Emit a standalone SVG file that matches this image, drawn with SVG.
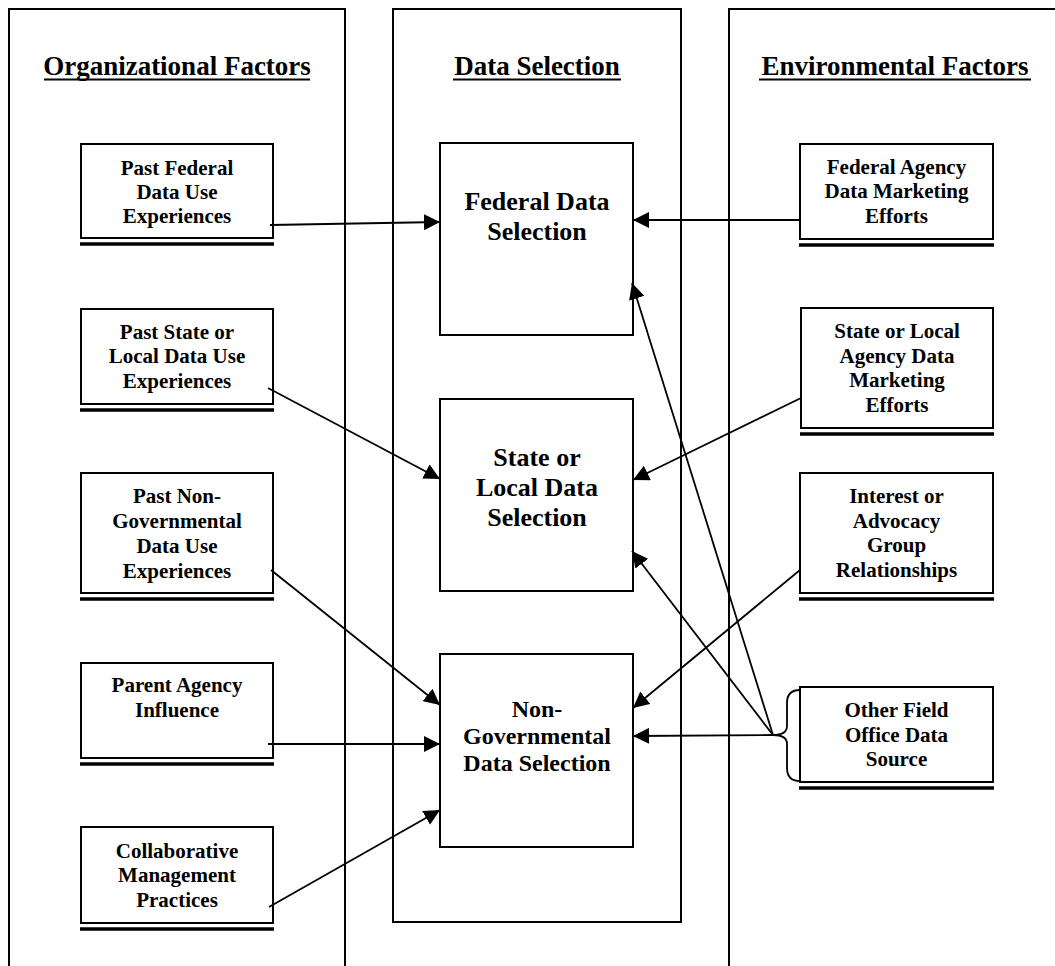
<svg xmlns="http://www.w3.org/2000/svg" width="1055" height="966" viewBox="0 0 1055 966">
  <style>
    text { font-family: "Liberation Serif", "Times New Roman", serif; font-weight: bold; fill: #000; text-anchor: middle; }
    .hdr { font-size: 27px; }
    .sm { font-size: 21px; }
    .lg { font-size: 26px; }
    .md { font-size: 24px; }
    .col { fill: none; stroke: #000; stroke-width: 2; }
    .box { fill: #fff; stroke: #000; stroke-width: 2; }
    .bar { stroke: #000; stroke-width: 3.5; }
    .ul { stroke: #000; stroke-width: 2; }
    .conn { fill: none; stroke: #000; stroke-width: 1.8; }
  </style>
  <defs>
    <marker id="ah" viewBox="0 0 16 16" refX="16" refY="8" markerWidth="16" markerHeight="16" orient="auto" markerUnits="userSpaceOnUse">
      <path d="M0,0 L16,8 L0,16 z" fill="#000"/>
    </marker>
  </defs>
  <rect width="1055" height="966" fill="#fff"/>

  <!-- column frames -->
  <g id="columns">
    <path class="col" d="M9,970 L9,9 L345,9 L345,970"/>
    <rect class="col" x="393" y="9" width="288" height="913"/>
    <path class="col" d="M729,970 L729,9 L1060,9"/>
  </g>

  <!-- column headings -->
  <g id="headings">
    <text class="hdr" x="177" y="75">Organizational Factors</text>
    <line class="ul" x1="44" y1="79.5" x2="310" y2="79.5"/>
    <text class="hdr" x="537" y="75">Data Selection</text>
    <line class="ul" x1="453" y1="79.5" x2="621" y2="79.5"/>
    <text class="hdr" x="895" y="75">Environmental Factors</text>
    <line class="ul" x1="759" y1="79.5" x2="1031" y2="79.5"/>
  </g>

  <!-- organizational factors -->
  <g id="past-federal">
    <rect class="box" x="81" y="144" width="192" height="94"/>
    <line class="bar" x1="80" y1="244" x2="274" y2="244"/>
    <text class="sm" x="177" y="175">Past Federal</text>
    <text class="sm" x="177" y="199">Data Use</text>
    <text class="sm" x="177" y="223">Experiences</text>
  </g>
  <g id="past-state-local">
    <rect class="box" x="81" y="309" width="192" height="95"/>
    <line class="bar" x1="80" y1="410" x2="274" y2="410"/>
    <text class="sm" x="177" y="339">Past State or</text>
    <text class="sm" x="177" y="363">Local Data Use</text>
    <text class="sm" x="177" y="388">Experiences</text>
  </g>
  <g id="past-nongov">
    <rect class="box" x="81" y="473" width="192" height="120"/>
    <line class="bar" x1="80" y1="599" x2="274" y2="599"/>
    <text class="sm" x="177" y="503">Past Non-</text>
    <text class="sm" x="177" y="528">Governmental</text>
    <text class="sm" x="177" y="553">Data Use</text>
    <text class="sm" x="177" y="578">Experiences</text>
  </g>
  <g id="parent-agency">
    <rect class="box" x="81" y="663" width="192" height="95"/>
    <line class="bar" x1="80" y1="764" x2="274" y2="764"/>
    <text class="sm" x="177" y="692">Parent Agency</text>
    <text class="sm" x="177" y="717">Influence</text>
  </g>
  <g id="collaborative">
    <rect class="box" x="81" y="827" width="192" height="96"/>
    <line class="bar" x1="80" y1="929" x2="274" y2="929"/>
    <text class="sm" x="177" y="858">Collaborative</text>
    <text class="sm" x="177" y="882">Management</text>
    <text class="sm" x="177" y="907">Practices</text>
  </g>

  <!-- data selection -->
  <g id="federal-selection">
    <rect class="box" x="440" y="143" width="193" height="192"/>
    <text class="lg" x="537" y="210">Federal Data</text>
    <text class="lg" x="537" y="240">Selection</text>
  </g>
  <g id="state-local-selection">
    <rect class="box" x="440" y="399" width="193" height="192"/>
    <text class="lg" x="537" y="466">State or</text>
    <text class="lg" x="537" y="496">Local Data</text>
    <text class="lg" x="537" y="526">Selection</text>
  </g>
  <g id="nongov-selection">
    <rect class="box" x="440" y="654" width="193" height="193"/>
    <text class="md" x="537" y="717">Non-</text>
    <text class="md" x="537" y="744">Governmental</text>
    <text class="md" x="537" y="771">Data Selection</text>
  </g>

  <!-- environmental factors -->
  <g id="federal-agency-marketing">
    <rect class="box" x="800" y="144" width="193" height="95"/>
    <line class="bar" x1="799" y1="245" x2="994" y2="245"/>
    <text class="sm" x="896.5" y="174">Federal Agency</text>
    <text class="sm" x="896.5" y="198">Data Marketing</text>
    <text class="sm" x="896.5" y="223">Efforts</text>
  </g>
  <g id="state-agency-marketing">
    <rect class="box" x="801" y="308" width="192" height="120"/>
    <line class="bar" x1="800" y1="434" x2="994" y2="434"/>
    <text class="sm" x="897" y="338">State or Local</text>
    <text class="sm" x="897" y="363">Agency Data</text>
    <text class="sm" x="897" y="387">Marketing</text>
    <text class="sm" x="897" y="412">Efforts</text>
  </g>
  <g id="interest-advocacy">
    <rect class="box" x="800" y="473" width="193" height="120"/>
    <line class="bar" x1="799" y1="599" x2="994" y2="599"/>
    <text class="sm" x="896.5" y="503">Interest or</text>
    <text class="sm" x="896.5" y="528">Advocacy</text>
    <text class="sm" x="896.5" y="552">Group</text>
    <text class="sm" x="896.5" y="577">Relationships</text>
  </g>
  <g id="other-field-office">
    <rect class="box" x="800" y="687" width="193" height="95"/>
    <line class="bar" x1="799" y1="788" x2="994" y2="788"/>
    <text class="sm" x="896.5" y="717">Other Field</text>
    <text class="sm" x="896.5" y="742">Office Data</text>
    <text class="sm" x="896.5" y="766">Source</text>
    <path class="conn" d="M800,690 Q787,690 787,703 L787,726 Q787,735 773,735 Q787,735 787,744 L787,768 Q787,781 800,781"/>
  </g>

  <!-- connectors -->
  <g id="connectors">
    <line class="conn" x1="270" y1="225" x2="440" y2="222" marker-end="url(#ah)"/>
    <line class="conn" x1="268" y1="388" x2="440" y2="479" marker-end="url(#ah)"/>
    <line class="conn" x1="271" y1="570" x2="440" y2="705" marker-end="url(#ah)"/>
    <line class="conn" x1="268" y1="744" x2="440" y2="744" marker-end="url(#ah)"/>
    <line class="conn" x1="269" y1="907" x2="440" y2="810" marker-end="url(#ah)"/>
    <line class="conn" x1="800" y1="220" x2="633" y2="220" marker-end="url(#ah)"/>
    <line class="conn" x1="801" y1="398" x2="633" y2="480" marker-end="url(#ah)"/>
    <line class="conn" x1="800" y1="570" x2="633" y2="708" marker-end="url(#ah)"/>
    <line class="conn" x1="773" y1="735" x2="633" y2="736" marker-end="url(#ah)"/>
    <line class="conn" x1="773" y1="735" x2="632" y2="283" marker-end="url(#ah)"/>
    <line class="conn" x1="773" y1="735" x2="632" y2="551" marker-end="url(#ah)"/>
  </g>
</svg>
